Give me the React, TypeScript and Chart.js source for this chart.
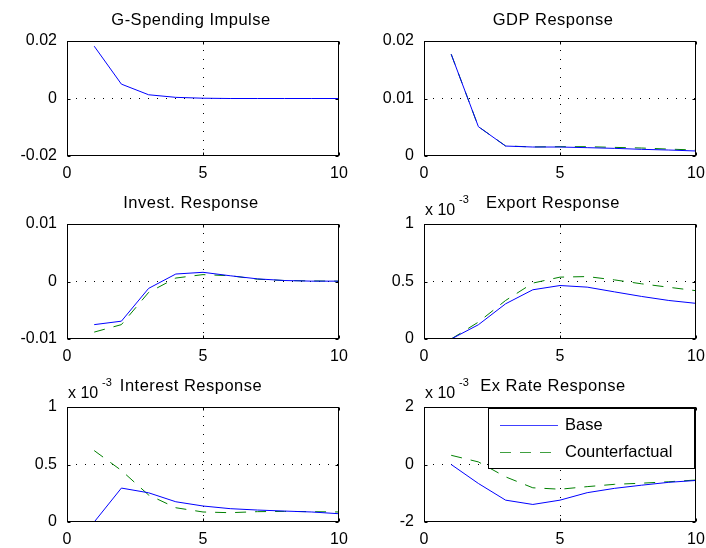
import React, { useEffect, useRef } from 'react';
import { Chart, registerables } from 'chart.js';

Chart.register(...registerables);

// ---- data (x = period) ----
const periods = [1, 2, 3, 4, 5, 6, 7, 8, 9, 10];

const gSpendingBase = [0.0182, 0.005, 0.0013, 0.0004, 0.0001, 0, 0, 0, 0, 0];

const gdpBase = [0.0177, 0.0051, 0.00173, 0.00156, 0.00156, 0.00145, 0.00133, 0.00116, 0.00104, 0.00087];
const gdpCounter = [0.0177, 0.0051, 0.00175, 0.00158, 0.00162, 0.00162, 0.0015, 0.00139, 0.0012, 0.00104];

const investBase = [-0.0075, -0.0069, -0.0012, 0.0013, 0.0016, 0.001, 0.00046, 0.00017, 0.00006, 0.00006];
const investCounter = [-0.0088, -0.0075, -0.0019, 0.0006, 0.0012, 0.001, 0.0004, 0.00017, 0.0001, 0.00006];

// values below in units of 10^-3
const exportBase = [0, 0.124, 0.306, 0.428, 0.465, 0.451, 0.41, 0.37, 0.335, 0.31];
const exportCounter = [0, 0.147, 0.335, 0.486, 0.538, 0.543, 0.514, 0.48, 0.45, 0.42];

const interestBase = [0, 0.295, 0.254, 0.176, 0.139, 0.116, 0.104, 0.095, 0.087, 0.072];
const interestCounter = [0.621, 0.448, 0.235, 0.124, 0.087, 0.081, 0.09, 0.092, 0.09, 0.087];

const exRateBase = [0, -0.66, -1.24, -1.39, -1.24, -0.98, -0.83, -0.72, -0.62, -0.555];
const exRateCounter = [0.32, 0.09, -0.43, -0.81, -0.86, -0.77, -0.69, -0.65, -0.6, -0.54];

const seriesLabels = ['Base', 'Counterfactual'];
const titles = ['G-Spending Impulse', 'GDP Response', 'Invest. Response', 'Export Response', 'Interest Response', 'Ex Rate Response'];
const xMin = 0;
const xMax = 10;
const xStep = 5;

const FONT = "'Liberation Sans', Arial, Helvetica, sans-serif";

type PanelDef = {
  title: string;
  exponent: boolean;
  yMin: number;
  yMax: number;
  yStep: number;
  base: number[];
  counter: number[] | null;
  legend: boolean;
};

const panels: PanelDef[] = [
  { title: titles[0], exponent: false, yMin: -0.02, yMax: 0.02, yStep: 0.02, base: gSpendingBase, counter: null, legend: false },
  { title: titles[1], exponent: false, yMin: 0, yMax: 0.02, yStep: 0.01, base: gdpBase, counter: gdpCounter, legend: false },
  { title: titles[2], exponent: false, yMin: -0.01, yMax: 0.01, yStep: 0.01, base: investBase, counter: investCounter, legend: false },
  { title: titles[3], exponent: true, yMin: 0, yMax: 1, yStep: 0.5, base: exportBase, counter: exportCounter, legend: false },
  { title: titles[4], exponent: true, yMin: 0, yMax: 1, yStep: 0.5, base: interestBase, counter: interestCounter, legend: false },
  { title: titles[5], exponent: true, yMin: -2, yMax: 2, yStep: 2, base: exRateBase, counter: exRateCounter, legend: true },
];

const decorPlugin = {
  id: 'matlabDecor',
  afterDatasetsDraw(chart: any, _args: any, opts: any) {
    const { ctx, chartArea: a } = chart;
    const L = Math.round(a.left) + 0.5;
    const R = Math.round(a.right) - 0.5;
    const T = Math.round(a.top) + 0.5;
    const B = Math.round(a.bottom) - 0.5;
    ctx.save();
    ctx.setLineDash([]);
    ctx.strokeStyle = '#000';
    ctx.lineWidth = 1;
    ctx.strokeRect(L, T, R - L, B - T);
    // inward tick marks
    const tl = 3;
    ctx.beginPath();
    chart.scales.x.ticks.forEach((t: any) => {
      const px = Math.round(chart.scales.x.getPixelForValue(t.value)) + 0.5;
      ctx.moveTo(px, B); ctx.lineTo(px, B - tl);
      ctx.moveTo(px, T); ctx.lineTo(px, T + tl);
    });
    chart.scales.y.ticks.forEach((t: any) => {
      const py = Math.round(chart.scales.y.getPixelForValue(t.value)) + 0.5;
      ctx.moveTo(L, py); ctx.lineTo(L + tl, py);
      ctx.moveTo(R, py); ctx.lineTo(R - tl, py);
    });
    ctx.stroke();

    // legend
    if (opts.legend) {
      const bx = Math.round(a.right) - 208;
      const by = Math.round(a.top) + 1;
      const bw = 206;
      const bh = 60;
      ctx.fillStyle = '#fff';
      ctx.fillRect(bx, by, bw, bh);
      ctx.strokeStyle = '#000';
      ctx.strokeRect(bx + 0.5, by + 0.5, bw, bh);
      ctx.font = `16.5px ${FONT}`;
      ctx.textBaseline = 'middle';
      ctx.textAlign = 'left';
      chart.data.datasets.forEach((ds: any, i: number) => {
        const ly = Math.round(by + 17 + i * 27) + 0.5;
        ctx.strokeStyle = ds.borderColor;
        ctx.globalAlpha = 0.75;
        ctx.setLineDash(ds.borderDash || []);
        ctx.beginPath();
        ctx.moveTo(bx + 12, ly);
        ctx.lineTo(bx + 70, ly);
        ctx.stroke();
        ctx.globalAlpha = 1;
        ctx.setLineDash([]);
        ctx.fillStyle = '#000';
        ctx.fillText(ds.label, bx + 77, ly);
      });
    }

    // title
    ctx.fillStyle = '#000';
    ctx.textBaseline = 'alphabetic';
    ctx.textAlign = 'center';
    ctx.font = `16.5px ${FONT}`;
    try { (ctx as any).letterSpacing = '0.5px'; } catch (e) { /* ignore */ }
    ctx.fillText(opts.title, opts.titleX, 25);
    try { (ctx as any).letterSpacing = '0px'; } catch (e) { /* ignore */ }

    // exponent label
    if (opts.exponent) {
      ctx.textAlign = 'left';
      ctx.font = `16px ${FONT}`;
      const ex = Math.round(a.left) + 1;
      ctx.fillText('x 10', ex, 32);
      ctx.font = `11px ${FONT}`;
      ctx.fillText('-3', ex + 34, 20);
    }
    ctx.restore();
  },
};

function fmt(v: number) {
  return String(parseFloat(v.toFixed(6)));
}

function Panel({ def, col, row }: { def: PanelDef; col: number; row: number }) {
  const ref = useRef<HTMLCanvasElement | null>(null);
  const width = 353;
  const height = row === 2 ? 182 : 183;
  const left = col === 0 ? 0 : 353;
  const top = row * 183;
  const yAxisW = col === 0 ? 67 : 71;
  const padRight = col === 0 ? 14 : 10;
  const xAxisH = height - 156;
  const titleX = col === 0 ? 191 : 200;

  useEffect(() => {
    if (!ref.current) return;
    const datasets: any[] = [
      {
        label: seriesLabels[0],
        data: periods.map((p, i) => ({ x: p, y: def.base[i] })),
        borderColor: '#0000ff',
        borderWidth: 1,
        pointRadius: 0,
        tension: 0,
        fill: false,
      },
    ];
    if (def.counter) {
      datasets.push({
        label: seriesLabels[1],
        data: periods.map((p, i) => ({ x: p, y: (def.counter as number[])[i] })),
        borderColor: '#008000',
        borderWidth: 1,
        borderDash: [11, 9],
        pointRadius: 0,
        tension: 0,
        fill: false,
      });
    }
    const isEdge = (v: number, lo: number, hi: number) => Math.abs(v - lo) < 1e-9 || Math.abs(v - hi) < 1e-9;
    const chart = new Chart(ref.current, {
      type: 'line',
      data: { datasets },
      plugins: [decorPlugin as any],
      options: {
        animation: false,
        responsive: false,
        layout: { padding: { top: 41, right: padRight, left: 0, bottom: 0 } },
        plugins: {
          legend: { display: false },
          title: { display: false },
          tooltip: { enabled: false },
          matlabDecor: { title: def.title, titleX, exponent: def.exponent, legend: def.legend },
        } as any,
        scales: {
          x: {
            type: 'linear',
            min: xMin,
            max: xMax,
            ticks: {
              stepSize: xStep,
              padding: 8,
              color: '#000',
              font: { size: 16, family: FONT },
              maxRotation: 0,
              callback: (v: any) => fmt(Number(v)),
            },
            grid: {
              drawTicks: false,
              lineWidth: 1,
              color: (c: any) => (c.tick && isEdge(c.tick.value, xMin, xMax) ? 'rgba(0,0,0,0)' : '#000'),
            },
            border: { display: false, dash: [1, 8] },
            afterFit: (s: any) => {
              s.height = xAxisH;
              s.paddingLeft = 0; s.paddingRight = 0; s.paddingTop = 0; s.paddingBottom = 0;
            },
          },
          y: {
            type: 'linear',
            min: def.yMin,
            max: def.yMax,
            ticks: {
              stepSize: def.yStep,
              padding: 10,
              color: '#000',
              font: { size: 16, family: FONT },
              callback: (v: any) => fmt(Number(v)),
            },
            grid: {
              drawTicks: false,
              lineWidth: 1,
              color: (c: any) => (c.tick && isEdge(c.tick.value, def.yMin, def.yMax) ? 'rgba(0,0,0,0)' : '#000'),
            },
            border: { display: false, dash: [1, 8] },
            afterFit: (s: any) => {
              s.width = yAxisW;
              s.paddingLeft = 0; s.paddingRight = 0; s.paddingTop = 0; s.paddingBottom = 0;
            },
          },
        },
      } as any,
    });
    return () => chart.destroy();
  }, []);

  return (
    <canvas
      ref={ref}
      width={width}
      height={height}
      style={{ position: 'absolute', left, top, width, height, display: 'block' }}
    />
  );
}

export default function App() {
  return (
    <div style={{ position: 'absolute', left: 0, top: 0, width: 706, height: 548, background: '#fff', overflow: 'hidden' }}>
      {panels.map((p, i) => (
        <Panel key={i} def={p} col={i % 2} row={Math.floor(i / 2)} />
      ))}
    </div>
  );
}
